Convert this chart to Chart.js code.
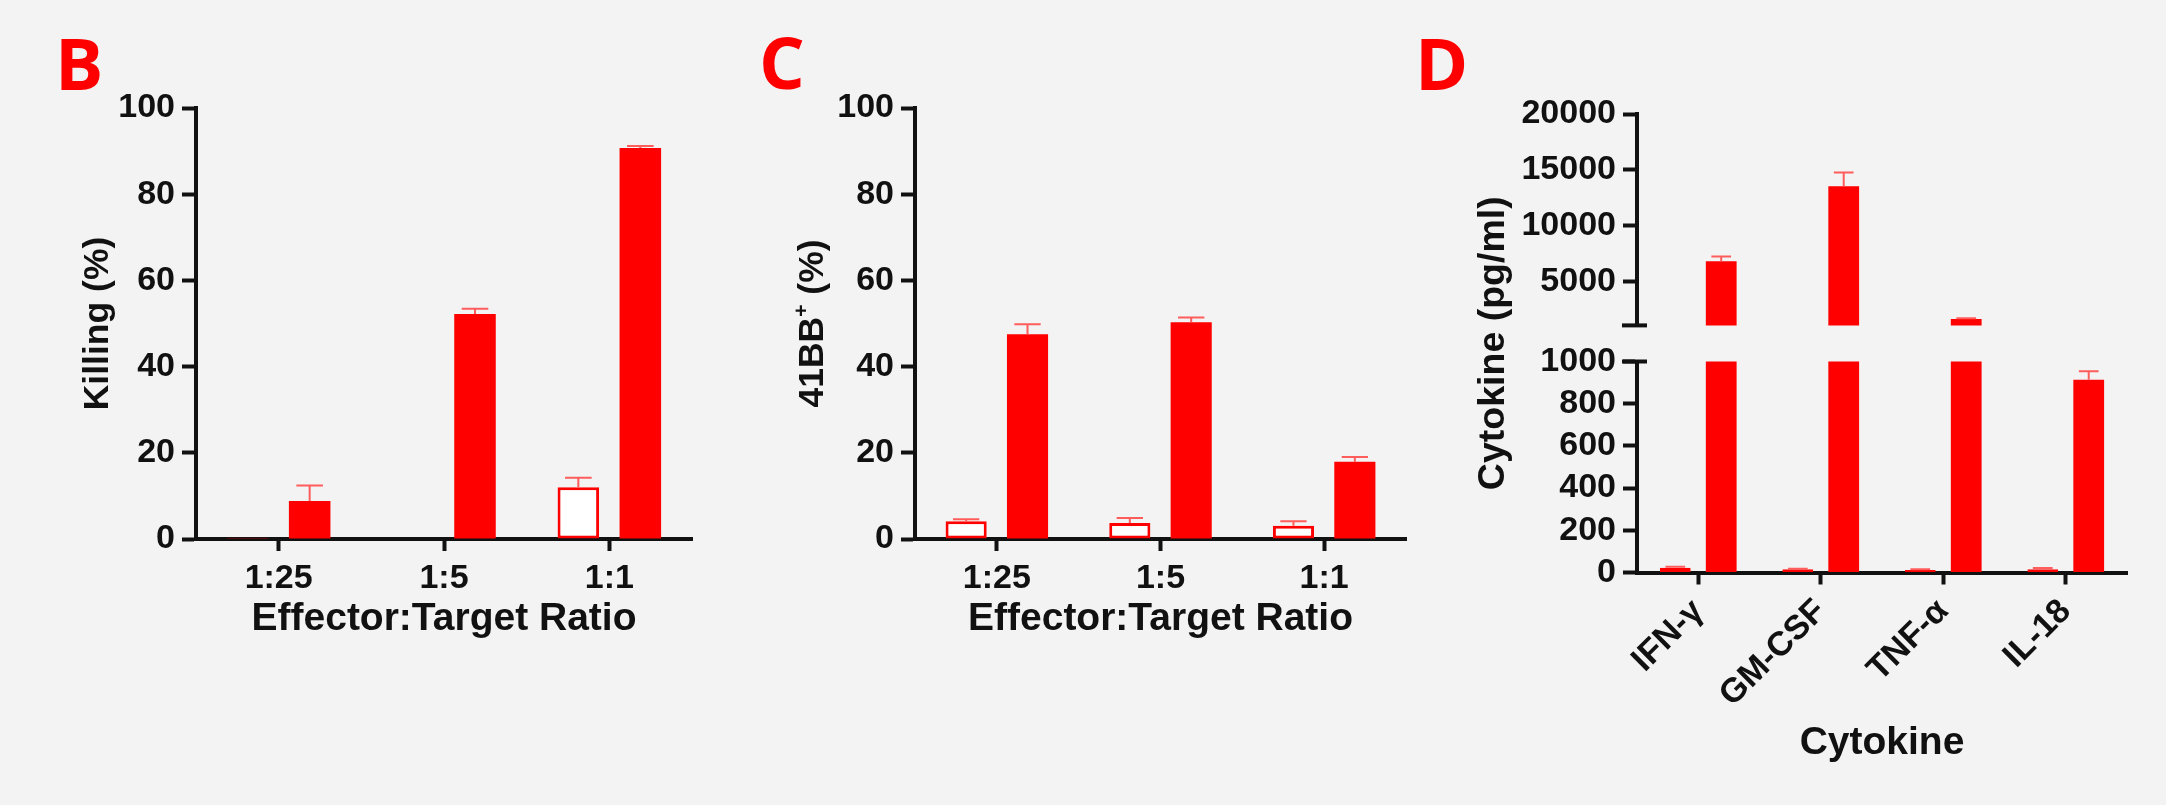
<!DOCTYPE html>
<html>
<head>
<meta charset="utf-8">
<script src="https://cdn.jsdelivr.net/npm/chart.js@4.4.1/dist/chart.umd.min.js"></script>
<style>
  html, body { margin: 0; padding: 0; background: #f3f3f3; }
  #page { position: relative; width: 2166px; height: 805px; overflow: hidden; background: #f3f3f3; }
  .panel { position: absolute; top: 0; height: 805px; }
  .panel canvas { position: absolute; left: 0; top: 0; }
  .letter { position: absolute; font: 700 72px 'Open Sans', sans-serif; color: #ff0000; line-height: 1; }
</style>
</head>
<body>
<div id="page">
  <div class="letter" style="left:55px;top:26px">B</div>
  <div class="letter" style="left:759px;top:25px">C</div>
  <div class="letter" style="left:1415px;top:26px">D</div>
  <div class="panel" style="left:0;width:720px"><canvas id="chartB" width="720" height="805"></canvas></div>
  <div class="panel" style="left:720px;width:720px"><canvas id="chartC" width="720" height="805"></canvas></div>
  <div class="panel" style="left:1400px;width:766px">
    <canvas id="chartDTop" width="766" height="805"></canvas>
    <canvas id="chartDBottom" width="766" height="805"></canvas>
  </div>
</div>
<script>
// ─── Data ─────────────────────────────────────────────────────────────────────

const RATIOS = ['1:25', '1:5', '1:1'];
const PCT_TICKS = [0, 20, 40, 60, 80, 100];

// B — killing (%)
const KILL_CTRL     = [0.3, 0, 12.0];
const KILL_CTRL_ERR = [0, 0, 2.2];
const KILL_CAR      = [8.8, 52.2, 90.7];
const KILL_CAR_ERR  = [3.6, 1.2, 0.5];

// C — 41BB+ (%)
const ACT_CTRL     = [4.1, 3.7, 3.1];
const ACT_CTRL_ERR = [0.5, 1.2, 1.0];
const ACT_CAR      = [47.5, 50.3, 17.9];
const ACT_CAR_ERR  = [2.3, 1.1, 1.1];

// D — cytokines (pg/ml), broken y axis
const CYTOKINES     = ['IFN-γ', 'GM-CSF', 'TNF-α', 'IL-18'];
const CYTO_CTRL     = [23, 15, 12, 15];
const CYTO_CTRL_ERR = [4, 3, 3, 6];
const CYTO_CAR      = [6830, 13550, 1680, 914];
const CYTO_CAR_ERR  = [440, 1220, 60, 40];
const CYTO_LOW_TICKS  = [0, 200, 400, 600, 800, 1000];
const CYTO_HIGH_TICKS = [5000, 10000, 15000, 20000];
const CYTO_LOW_MAX  = 1000;
const CYTO_HIGH_MIN = 1100;
const CYTO_HIGH_MAX = 20000;

// ─── Styling ──────────────────────────────────────────────────────────────────

const FONT = "'Liberation Sans', Arial, sans-serif";
const INK = '#111111';
const RED = '#ff0000';
const ERR_RED = '#ff5c5c';
const tickFont   = { family: FONT, size: 34, weight: 'bold' };
const xTitleFont = { family: FONT, size: 39, weight: 'bold' };

// error bars: upper whisker only, GraphPad style
const errorBars = {
  id: 'errorBars',
  afterDatasetsDraw(chart) {
    const { ctx, chartArea: a } = chart;
    const y = chart.scales.y;
    ctx.save();
    ctx.beginPath();
    ctx.rect(a.left, a.top - 2, a.right - a.left, a.bottom - a.top + 2);
    ctx.clip();
    ctx.strokeStyle = ERR_RED;
    ctx.lineWidth = 2;
    chart.data.datasets.forEach((ds, i) => {
      if (!ds.errors) return;
      chart.getDatasetMeta(i).data.forEach((bar, j) => {
        const e = ds.errors[j];
        if (!e) return;
        const yTop = y.getPixelForValue(ds.data[j] + e);
        const half = bar.width * 0.32;
        ctx.beginPath();
        ctx.moveTo(bar.x, bar.y);
        ctx.lineTo(bar.x, yTop);
        ctx.moveTo(bar.x - half, yTop);
        ctx.lineTo(bar.x + half, yTop);
        ctx.stroke();
      });
    });
    ctx.restore();
  }
};

// rotated y title, parts may be superscript
function yTitle(parts, size, offsetX, centerY) {
  return {
    id: 'yTitle',
    afterDraw(chart) {
      const { ctx } = chart;
      const y = chart.scales.y;
      const cy = centerY ? centerY(chart) : (y.top + y.bottom) / 2;
      ctx.save();
      ctx.translate(y.left + offsetX, cy);
      ctx.rotate(-Math.PI / 2);
      ctx.fillStyle = INK;
      ctx.textAlign = 'left';
      ctx.textBaseline = 'alphabetic';
      const fontOf = p => `bold ${p.sup ? Math.round(size * 0.6) : size}px ${FONT}`;
      const widths = parts.map(p => { ctx.font = fontOf(p); return ctx.measureText(p.text).width; });
      let x = -widths.reduce((s, w) => s + w, 0) / 2;
      const base = size * 0.36;
      parts.forEach((p, k) => {
        ctx.font = fontOf(p);
        ctx.fillText(p.text, x, p.sup ? base - size * 0.42 : base);
        x += widths[k];
      });
      ctx.restore();
    }
  };
}

// break mark across the y axis at a value
function breakMark(value) {
  return {
    id: 'breakMark',
    afterDraw(chart) {
      const { ctx } = chart;
      const y = chart.scales.y;
      const py = y.getPixelForValue(value);
      ctx.save();
      ctx.strokeStyle = INK;
      ctx.lineWidth = 4;
      ctx.beginPath();
      ctx.moveTo(y.right - 15, py);
      ctx.lineTo(y.right + 10, py);
      ctx.stroke();
      ctx.restore();
    }
  };
}

function barDatasets(ctrl, ctrlErr, car, carErr) {
  const common = { barPercentage: 0.67, categoryPercentage: 0.75, clip: 0 };
  return [
    { label: 'Control', data: ctrl, errors: ctrlErr, backgroundColor: '#ffffff',
      borderColor: RED, borderWidth: 3, borderSkipped: false, ...common },
    { label: 'CAR', data: car, errors: carErr, backgroundColor: RED, borderWidth: 0, ...common },
  ];
}

function yAxis(min, max, ticks, width) {
  return {
    min, max,
    afterBuildTicks: s => { s.ticks = ticks.map(v => ({ value: v })); },
    afterFit: s => { s.width = width; },
    grid: { drawOnChartArea: false, drawTicks: true, tickLength: 14, tickWidth: 4, tickColor: INK },
    border: { display: true, width: 4, color: INK },
    ticks: { color: INK, font: tickFont, padding: 7, autoSkip: false, callback: v => String(v) },
  };
}

function xAxis(height, title, rotation) {
  return {
    offset: true,
    afterFit: s => { s.height = height; },
    grid: { drawOnChartArea: false, offset: false, tickLength: 12, tickWidth: 4, tickColor: INK },
    border: { display: true, width: 4, color: INK },
    ticks: { color: INK, font: tickFont, padding: 7, autoSkip: false, minRotation: rotation, maxRotation: rotation },
    title: { display: true, text: title, color: INK, font: xTitleFont, padding: 0 },
  };
}

const baseOptions = (padding, scales) => ({
  responsive: false,
  animation: false,
  events: [],
  layout: { padding },
  plugins: { legend: { display: false }, tooltip: { enabled: false } },
  scales,
});

// ─── B — Killing ──────────────────────────────────────────────────────────────

new Chart(document.getElementById('chartB'), {
  type: 'bar',
  data: { labels: RATIOS, datasets: barDatasets(KILL_CTRL, KILL_CTRL_ERR, KILL_CAR, KILL_CAR_ERR) },
  options: baseOptions({ left: 0, right: 28, top: 108, bottom: 162 }, {
    x: xAxis(104, 'Effector:Target Ratio', 0),
    y: yAxis(0, 100, PCT_TICKS, 196),
  }),
  plugins: [errorBars, yTitle([{ text: 'Killing (%)' }], 35.5, 95)],
});

// ─── C — 41BB+ ────────────────────────────────────────────────────────────────

new Chart(document.getElementById('chartC'), {
  type: 'bar',
  data: { labels: RATIOS, datasets: barDatasets(ACT_CTRL, ACT_CTRL_ERR, ACT_CAR, ACT_CAR_ERR) },
  options: baseOptions({ left: 0, right: 34, top: 108, bottom: 162 }, {
    x: xAxis(104, 'Effector:Target Ratio', 0),
    y: yAxis(0, 100, PCT_TICKS, 195),
  }),
  plugins: [errorBars, yTitle([{ text: '41BB' }, { text: '+', sup: true }, { text: ' (%)' }], 35.5, 90)],
});

// ─── D — Cytokines (two stacked segments) ─────────────────────────────────────

const chartDTop = new Chart(document.getElementById('chartDTop'), {
  type: 'bar',
  data: { labels: CYTOKINES, datasets: barDatasets(CYTO_CTRL, CYTO_CTRL_ERR, CYTO_CAR, CYTO_CAR_ERR) },
  options: baseOptions({ left: 0, right: 39, top: 114, bottom: 479.6 }, {
    x: { display: false, offset: true },
    y: yAxis(CYTO_HIGH_MIN, CYTO_HIGH_MAX, CYTO_HIGH_TICKS, 237),
  }),
  plugins: [errorBars, breakMark(CYTO_HIGH_MIN)],
});

new Chart(document.getElementById('chartDBottom'), {
  type: 'bar',
  data: { labels: CYTOKINES, datasets: barDatasets(CYTO_CTRL, CYTO_CTRL_ERR, CYTO_CAR, CYTO_CAR_ERR) },
  options: baseOptions({ left: 0, right: 39, top: 361.5, bottom: 38 }, {
    x: xAxis(194.5, 'Cytokine', 45),
    y: yAxis(0, CYTO_LOW_MAX, CYTO_LOW_TICKS, 237),
  }),
  plugins: [errorBars, breakMark(CYTO_LOW_MAX),
    yTitle([{ text: 'Cytokine (pg/ml)' }], 37.5, 90, ch => (chartDTop.chartArea.top + ch.chartArea.bottom) / 2)],
});
</script>
</body>
</html>
